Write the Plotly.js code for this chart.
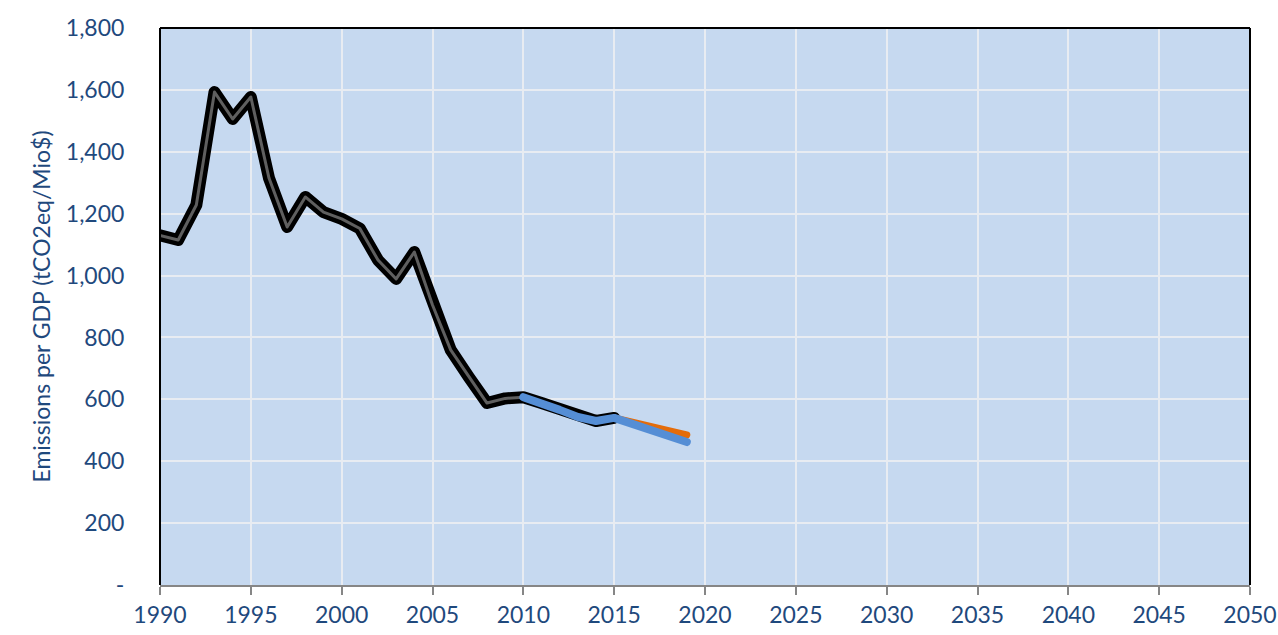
<!DOCTYPE html>
<html>
<head>
<meta charset="utf-8">
<script src="https://cdn.plot.ly/plotly-3.0.1.min.js"></script>
<style>
html,body{margin:0;padding:0;background:#fff;}
#chart{width:1278px;height:635px;}
</style>
</head>
<body>
<div id="chart"></div>
<script>
// Historical emissions per GDP (tCO2eq/Mio$)
const histYears = [1990,1991,1992,1993,1994,1995,1996,1997,1998,1999,2000,2001,2002,2003,2004,2005,2006,2007,2008,2009,2010,2011,2012,2013,2014,2015];
const histValues = [1130,1115,1228,1593,1506,1577,1315,1157,1254,1205,1183,1152,1050,989,1076,905,760,672,588,603,607,588,566,543,530,540];

// Projection series (blue)
const blueYears = [2010,2011,2012,2013,2014,2015,2016,2017,2018,2019];
const blueValues = [607,588,566,543,530,540,520,501,481,462];

// Projection series (orange)
const orangeYears = [2015,2016,2017,2018,2019];
const orangeValues = [540,526,512,498,485];

const yTickVals = [0,200,400,600,800,1000,1200,1400,1600,1800];
const yTickText = ['-','200','400','600','800','1,000','1,200','1,400','1,600','1,800'];
const xTickVals = [1990,1995,2000,2005,2010,2015,2020,2025,2030,2035,2040,2045,2050];

const fontFam = 'Lato, "Open Sans", sans-serif';
const txtColor = '#1F497D';
const fs = 23;

const traces = [
  {x: histYears, y: histValues, mode: 'lines', line: {color: '#000000', width: 12}, hoverinfo: 'skip', showlegend: false},
  {x: histYears, y: histValues, mode: 'lines', line: {color: '#5f5f5f', width: 3}, hoverinfo: 'skip', showlegend: false},
  {x: orangeYears, y: orangeValues, mode: 'lines', line: {color: '#E46C0A', width: 7}, showlegend: false},
  {x: blueYears, y: blueValues, mode: 'lines', line: {color: '#558ED5', width: 8}, showlegend: false}
];

const layout = {
  width: 1278, height: 635,
  margin: {l: 160, r: 28, t: 28, b: 50},
  paper_bgcolor: '#ffffff',
  plot_bgcolor: '#C6D9F0',
  font: {family: fontFam, color: txtColor, size: fs},
  showlegend: false,
  xaxis: {
    range: [1990, 2050],
    tickvals: xTickVals,
    ticks: 'outside', ticklen: 8, tickwidth: 2, tickcolor: '#868686',
    showline: true, linecolor: '#868686', linewidth: 2,
    showgrid: true, gridcolor: '#E8ECF2', gridwidth: 2,
    zeroline: false,
    tickfont: {family: fontFam, size: fs, color: txtColor}
  },
  yaxis: {
    range: [0, 1800],
    tickvals: yTickVals, ticktext: yTickText,
    ticks: 'outside', ticklen: 30, tickcolor: 'rgba(0,0,0,0)',
    showline: false,
    showgrid: true, gridcolor: '#E8ECF2', gridwidth: 2,
    zeroline: false,
    tickfont: {family: fontFam, size: fs, color: txtColor},
    title: {text: 'Emissions per GDP (tCO2eq/Mio$)', font: {family: fontFam, size: fs, color: txtColor}, standoff: 8}
  },
  shapes: [
    {type: 'line', xref: 'paper', yref: 'paper', x0: 0, x1: 1, y0: 1, y1: 1, line: {color: '#000', width: 2}},
    {type: 'line', xref: 'paper', yref: 'paper', x0: 0, x1: 0, y0: 0, y1: 1, line: {color: '#000', width: 2}},
    {type: 'line', xref: 'paper', yref: 'paper', x0: 1, x1: 1, y0: 0, y1: 1, line: {color: '#000', width: 2}}
  ]
};

Plotly.newPlot('chart', traces, layout, {displayModeBar: false, staticPlot: true}).then(function(gd){
  gd.querySelectorAll('.scatterlayer path.js-line').forEach(function(p){
    p.style.strokeLinejoin = 'round';
    p.style.strokeLinecap = 'round';
  });
});
</script>
</body>
</html>
